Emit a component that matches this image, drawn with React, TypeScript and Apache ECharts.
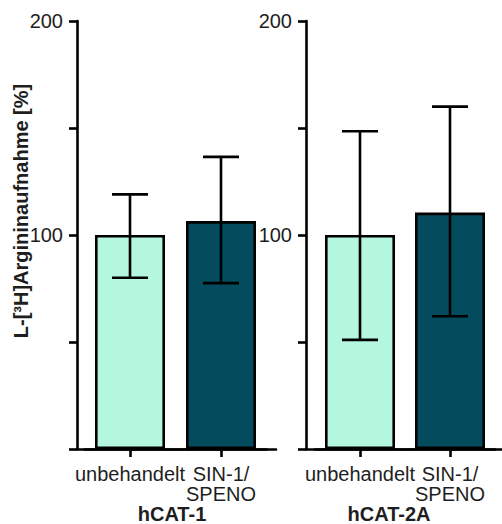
import React, { useEffect, useRef } from "react";
import * as echarts from "echarts";

const categories = ["unbehandelt", "SIN-1/\nSPENO"];
const groupNames = ["hCAT-1", "hCAT-2A"];
const yTickLabels = [100, 200];
const yTitle = "L-[³H]Argininaufnahme [%]";

const hcat1Mean = [100, 106.5];
const hcat1Lower = [80, 77.5];
const hcat1Upper = [119, 136.5];

const hcat2aMean = [100, 110.5];
const hcat2aLower = [51, 62];
const hcat2aUpper = [148.5, 160];

const barColors = ["#B5F6DF", "#044B5D"];

const FONT = "'Liberation Sans', Arial, Helvetica, sans-serif";
const TEXT = "#1e1e1e";
const LW = 2.6;

export default function App() {
  const ref = useRef<HTMLDivElement>(null);

  useEffect(() => {
    if (!ref.current) return;
    const chart = echarts.init(ref.current, null, { renderer: "svg" });

    const top = 21;
    const bottom = 75;

    const axisGrid = (left: number, width: number) => ({ left, width, top, bottom });

    const baselineX = (gridIndex: number) => ({
      gridIndex,
      type: "value",
      min: 0,
      max: 1,
      axisLine: { show: true, onZero: false, lineStyle: { color: "#000", width: LW } },
      axisTick: { show: false },
      axisLabel: { show: false },
      splitLine: { show: false },
    });

    const catX = (gridIndex: number) => ({
      gridIndex,
      type: "category",
      position: "bottom",
      data: categories,
      axisLine: { show: true, onZero: false, lineStyle: { color: "#000", width: LW } },
      axisTick: {
        show: true,
        inside: false,
        interval: 0,
        alignWithLabel: true,
        length: 8,
        lineStyle: { color: "#000", width: LW },
      },
      axisLabel: {
        show: true,
        interval: 0,
        margin: 15,
        fontSize: 20,
        lineHeight: 20,
        fontFamily: FONT,
        color: TEXT,
        align: "center",
      },
      splitLine: { show: false },
    });

    const visY = (gridIndex: number) => ({
      gridIndex,
      type: "value",
      min: 0,
      max: 200,
      interval: 50,
      axisLine: { show: true, lineStyle: { color: "#000", width: LW } },
      axisTick: { show: true, inside: false, length: 8, lineStyle: { color: "#000", width: LW } },
      axisLabel: {
        margin: 14,
        fontSize: 20,
        fontFamily: FONT,
        color: TEXT,
        formatter: (v: number) => (yTickLabels.includes(v) ? String(v) : ""),
      },
      splitLine: { show: false },
    });

    const hidY = (gridIndex: number) => ({
      gridIndex,
      type: "value",
      min: 0,
      max: 200,
      axisLine: { show: false },
      axisTick: { show: false },
      axisLabel: { show: false },
      splitLine: { show: false },
    });

    const barSeries = (idx: number, means: number[]) => ({
      type: "bar",
      xAxisIndex: idx,
      yAxisIndex: idx,
      barWidth: 70,
      data: means.map((v, i) => ({
        value: v,
        itemStyle: { color: barColors[i], borderColor: "#000", borderWidth: LW },
      })),
      z: 2,
    });

    const errSeries = (idx: number, lower: number[], upper: number[]) => ({
      type: "custom",
      xAxisIndex: idx,
      yAxisIndex: idx,
      z: 5,
      data: lower.map((l, i) => [i, l, upper[i]]),
      encode: { x: 0, y: [1, 2] },
      renderItem: (params: any, api: any) => {
        const lo = api.coord([api.value(0), api.value(1)]);
        const hi = api.coord([api.value(0), api.value(2)]);
        const half = 18;
        const style = { stroke: "#000", lineWidth: LW };
        return {
          type: "group",
          children: [
            { type: "line", shape: { x1: hi[0], y1: hi[1], x2: lo[0], y2: lo[1] }, style },
            { type: "line", shape: { x1: hi[0] - half, y1: hi[1], x2: hi[0] + half, y2: hi[1] }, style },
            { type: "line", shape: { x1: lo[0] - half, y1: lo[1], x2: lo[0] + half, y2: lo[1] }, style },
          ],
        };
      },
    });

    const boldText = (text: string, x: number, y: number, rotation = 0) => ({
      type: "text",
      x,
      y,
      rotation,
      style: {
        text,
        fontSize: 20,
        fontWeight: "bold",
        fontFamily: FONT,
        fill: TEXT,
        align: "center",
        verticalAlign: "middle",
      },
    });

    chart.setOption({
      animation: false,
      backgroundColor: "#fff",
      grid: [
        axisGrid(77, 199),
        axisGrid(84.5, 182),
        axisGrid(306, 200),
        axisGrid(315, 180),
      ],
      xAxis: [baselineX(0), catX(1), baselineX(2), catX(3)],
      yAxis: [visY(0), hidY(1), visY(2), hidY(3)],
      series: [
        barSeries(1, hcat1Mean),
        errSeries(1, hcat1Lower, hcat1Upper),
        barSeries(3, hcat2aMean),
        errSeries(3, hcat2aLower, hcat2aUpper),
      ],
      graphic: [
        boldText(yTitle, 21, 211, Math.PI / 2),
        boldText(groupNames[0], 172, 514),
        boldText(groupNames[1], 389, 514),
      ],
    });

    return () => chart.dispose();
  }, []);

  return (
    <div
      ref={ref}
      style={{ position: "fixed", left: 0, top: 0, width: 502, height: 524 }}
    />
  );
}
